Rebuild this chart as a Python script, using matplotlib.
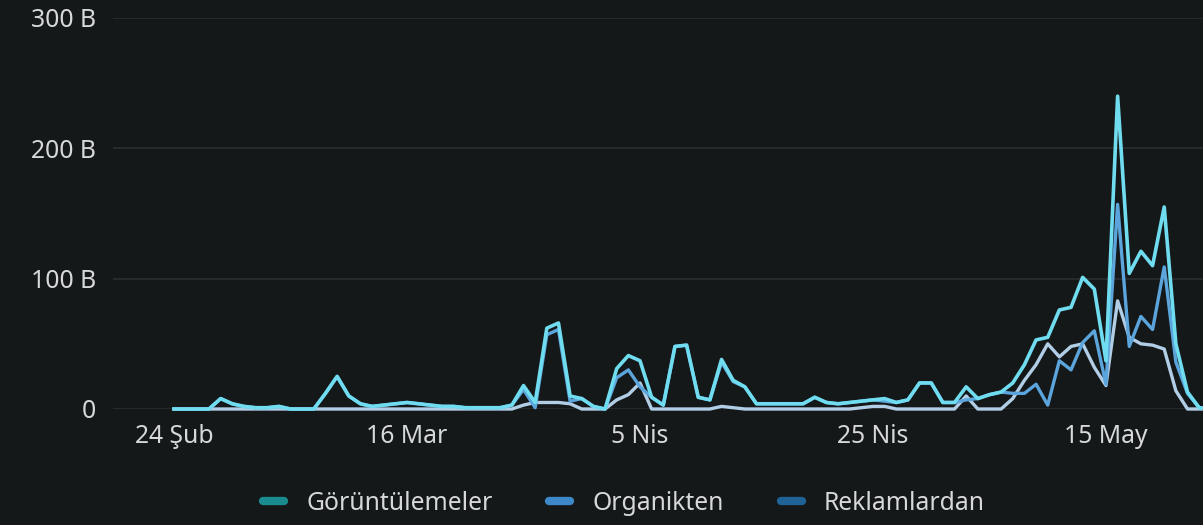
import matplotlib
matplotlib.use("Agg")
import matplotlib.pyplot as plt
from matplotlib.lines import Line2D

# ---- data (in thousands "B") ----
days = list(range(90))
tick_days = [0, 20, 40, 60, 80]
tick_labels = ["24 Şub", "16 Mar", "5 Nis", "25 Nis", "15 May"]
y_ticks = [0, 100, 200, 300]
y_labels = ["0", "100 B", "200 B", "300 B"]
series_names = ["Görüntülemeler", "Organikten", "Reklamlardan"]

goruntulemeler = [0, 0, 0, 0, 8, 4, 2, 1, 1, 2,
                  0, 0, 0, 12, 25, 10, 4, 2, 3, 4,
                  5, 4, 3, 2, 2, 1, 1, 1, 1, 3,
                  18, 5, 62, 66, 10, 8, 2, 0, 31, 41,
                  37, 9, 3, 48, 49, 9, 7, 38, 22, 17,
                  4, 4, 4, 4, 4, 9, 5, 4, 5, 6,
                  7, 8, 5, 7, 20, 20, 5, 5, 17, 8,
                  11, 13, 20, 34, 53, 55, 76, 78, 101, 92,
                  37, 240, 104, 121, 110, 155, 50, 13, 1, 0]

organikten = [0, 0, 0, 0, 8, 4, 2, 1, 1, 2,
              0, 0, 0, 12, 25, 10, 4, 2, 3, 4,
              5, 4, 3, 2, 2, 1, 1, 1, 1, 3,
              15, 1, 57, 61, 6, 8, 2, 0, 24, 30,
              17, 9, 3, 48, 49, 9, 7, 36, 21, 17,
              4, 4, 4, 4, 4, 9, 5, 4, 5, 6,
              7, 6, 5, 7, 20, 20, 5, 5, 7, 8,
              11, 13, 12, 12, 19, 3, 37, 30, 51, 60,
              19, 157, 48, 71, 61, 109, 36, 12, 1, 0]

reklamlardan = [0, 0, 0, 0, 0, 0, 0, 0, 0, 0,
                0, 0, 0, 0, 0, 0, 0, 0, 0, 0,
                0, 0, 0, 0, 0, 0, 0, 0, 0, 0,
                3, 5, 5, 5, 4, 0, 0, 0, 7, 11,
                20, 0, 0, 0, 0, 0, 0, 2, 1, 0,
                0, 0, 0, 0, 0, 0, 0, 0, 0, 1,
                2, 2, 0, 0, 0, 0, 0, 0, 10, 0,
                0, 0, 8, 22, 34, 50, 40, 48, 50, 32,
                18, 83, 55, 50, 49, 46, 14, 0, 0, 0]

# ---- style ----
BG = "#151819"
GRID = "#272a2c"
TXT = "#d6d8da"
line_colors = ["#70dcef", "#5ba5dc", "#b2cee6"]
legend_colors = ["#1a8b8e", "#3c88c8", "#1f6296"]
FONT = ["Noto Sans", "DejaVu Sans"]
plt.rcParams["font.family"] = FONT
plt.rcParams["font.weight"] = "medium"

fig = plt.figure(figsize=(12.03, 5.25), dpi=100, facecolor=BG)
ax = fig.add_axes([113 / 1203, (525 - 409) / 525, 1 - 113 / 1203, (409 - 18) / 525])
ax.set_facecolor(BG)

ax.plot(days, reklamlardan, color=line_colors[2], lw=2.4, clip_on=False, zorder=3,
        solid_joinstyle="round")
ax.plot(days, organikten, color=line_colors[1], lw=2.4, clip_on=False, zorder=4,
        solid_joinstyle="round")
ax.plot(days, goruntulemeler, color=line_colors[0], lw=2.6, clip_on=False, zorder=5,
        solid_joinstyle="round")

ax.set_xlim(-5.24, 88.33)
ax.set_ylim(0, 300)
ax.set_yticks(y_ticks)
ax.set_yticklabels(y_labels)
ax.set_xticks(tick_days)
ax.set_xticklabels(tick_labels)
ax.tick_params(axis="both", length=0, colors=TXT, labelsize=17.8)
ax.tick_params(axis="y", pad=12)
ax.tick_params(axis="x", pad=11)
for s in ax.spines.values():
    s.set_visible(False)
ax.grid(axis="y", color=GRID, lw=1.5)
ax.grid(axis="x", visible=False)
ax.set_axisbelow(True)

handles = [Line2D([0], [0], color=c, lw=6, solid_capstyle="round") for c in legend_colors]
leg = fig.legend(handles, series_names, loc="center", bbox_to_anchor=(624 / 1203, 1 - 503 / 525),
                 ncol=3, frameon=False, fontsize=17.8, labelcolor=TXT,
                 handlelength=0.85, handletextpad=0.9, columnspacing=2.3)

fig.savefig("out.png", dpi=100, facecolor=BG)
